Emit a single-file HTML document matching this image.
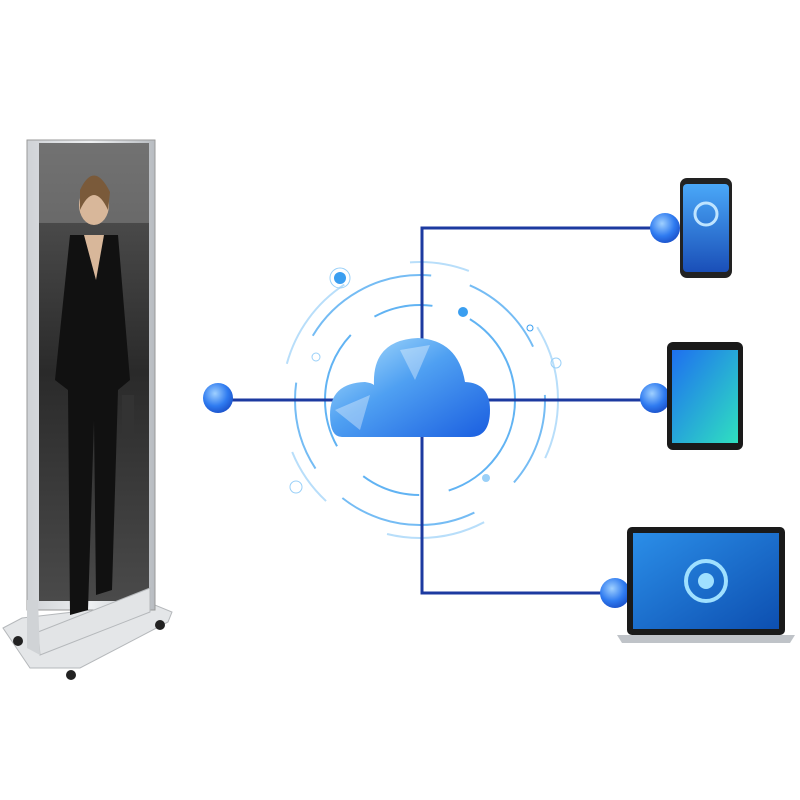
<!DOCTYPE html>
<html><head><meta charset="utf-8"><style>
html,body{margin:0;padding:0;background:#fff;width:800px;height:800px;overflow:hidden}
</style></head><body>
<svg width="800" height="800" viewBox="0 0 800 800" xmlns="http://www.w3.org/2000/svg">
<defs>
<linearGradient id="cloud" x1="0" y1="0" x2="1" y2="1">
<stop offset="0" stop-color="#b8e6fd"/><stop offset="0.45" stop-color="#4fa0f2"/><stop offset="1" stop-color="#1a5ee0"/></linearGradient>
<radialGradient id="dot" cx="0.4" cy="0.35" r="0.7"><stop offset="0" stop-color="#9fd0ff"/><stop offset="0.6" stop-color="#2f7bf0"/><stop offset="1" stop-color="#1a4fc8"/></radialGradient>
<linearGradient id="tab" x1="0" y1="0" x2="1" y2="1"><stop offset="0" stop-color="#1e6ff0"/><stop offset="1" stop-color="#2fe0c0"/></linearGradient>
<linearGradient id="phone" x1="0" y1="0" x2="0" y2="1"><stop offset="0" stop-color="#4aa8f8"/><stop offset="1" stop-color="#1a4fb8"/></linearGradient>
<linearGradient id="lap" x1="0" y1="0" x2="1" y2="1"><stop offset="0" stop-color="#2b8ee8"/><stop offset="1" stop-color="#0d4fb0"/></linearGradient>
<linearGradient id="silver" x1="0" y1="0" x2="1" y2="0"><stop offset="0" stop-color="#cfd2d6"/><stop offset="0.5" stop-color="#eef0f2"/><stop offset="1" stop-color="#b8bcc1"/></linearGradient>
<linearGradient id="photo" x1="0" y1="0" x2="0" y2="1"><stop offset="0" stop-color="#5a5a5a"/><stop offset="0.5" stop-color="#2a2a2a"/><stop offset="1" stop-color="#4a4a4a"/></linearGradient>
</defs>

<!-- poster stand base plate -->
<path d="M3,628 L22,618 L150,603 L172,612 L168,622 L80,668 L30,668 Z" fill="#e4e6e8" stroke="#b5b8bb"/>
<circle cx="18" cy="641" r="5" fill="#222"/><circle cx="160" cy="625" r="5" fill="#222"/><circle cx="71" cy="675" r="5" fill="#222"/>
<rect x="27" y="140" width="128" height="470" fill="url(#silver)" stroke="#999"/>
<rect x="39" y="143" width="110" height="458" fill="url(#photo)"/>
<rect x="39" y="143" width="110" height="80" fill="#8a8a8a" opacity="0.5"/>
<!-- lower housing -->
<path d="M38,632 L150,588 L150,612 L40,655 Z" fill="#e2e4e6" stroke="#b5b8bb"/>
<path d="M27,600 L38,600 L40,655 L27,648 Z" fill="#d0d3d6"/>
<!-- model silhouette -->
<ellipse cx="94" cy="205" rx="15" ry="20" fill="#d8b79a"/>
<path d="M80,190 Q94,160 110,192 L108,210 Q94,180 80,210 Z" fill="#7a5a3a"/>
<path d="M70,235 L118,235 L130,380 L118,390 L112,590 L96,595 L94,420 L88,610 L70,615 L68,390 L55,380 Z" fill="#111"/>
<path d="M84,235 L104,235 L96,280 Z" fill="#d8b79a"/>
<rect x="122" y="395" width="12" height="40" fill="#333"/>

<!-- rings -->
<g fill="none" stroke="#3aa0f0" stroke-width="2">
<circle cx="420" cy="400" r="95" stroke-dasharray="120 30 60 40" opacity="0.8"/>
<circle cx="420" cy="400" r="125" stroke-dasharray="90 50 140 40" opacity="0.7"/>
<circle cx="420" cy="400" r="138" stroke-dasharray="60 90 100 70" stroke="#9ad0f8" opacity="0.7"/>
</g>
<circle cx="340" cy="278" r="6" fill="#3a9ef0"/><circle cx="340" cy="278" r="10" fill="none" stroke="#9ad0f8"/>
<circle cx="463" cy="312" r="5" fill="#3a9ef0"/>
<circle cx="530" cy="328" r="3" fill="none" stroke="#3a9ef0"/>
<circle cx="556" cy="363" r="5" fill="none" stroke="#9ad0f8"/>
<circle cx="296" cy="487" r="6" fill="none" stroke="#9ad0f8"/>
<circle cx="486" cy="478" r="4" fill="#9ad0f8"/>
<circle cx="316" cy="357" r="4" fill="none" stroke="#9ad0f8"/>

<!-- lines -->
<g stroke="#1c3aa0" stroke-width="3" fill="none">
<line x1="218" y1="400" x2="655" y2="400"/>
<polyline points="665,228 422,228 422,593 615,593"/>
</g>

<!-- cloud -->
<path d="M342,437 Q330,437 330,415 Q330,383 365,382 Q372,383 374,385 Q372,340 418,338 Q458,340 465,382 Q490,383 490,410 Q490,437 470,437 Z" fill="url(#cloud)"/>
<g opacity="0.35" fill="#fff">
<path d="M335,410 L370,395 L360,430 Z"/><path d="M400,350 L430,345 L415,380 Z"/>
</g>

<!-- dots -->
<circle cx="218" cy="398" r="15" fill="url(#dot)"/>
<circle cx="665" cy="228" r="15" fill="url(#dot)"/>
<circle cx="655" cy="398" r="15" fill="url(#dot)"/>
<circle cx="615" cy="593" r="15" fill="url(#dot)"/>

<!-- phone -->
<rect x="680" y="178" width="52" height="100" rx="7" fill="#222"/>
<rect x="683" y="184" width="46" height="88" rx="4" fill="url(#phone)"/>
<circle cx="706" cy="214" r="11" fill="none" stroke="#bfe4ff" stroke-width="3"/>

<!-- tablet -->
<rect x="667" y="342" width="76" height="108" rx="6" fill="#1a1a1a"/>
<rect x="672" y="350" width="66" height="93" fill="url(#tab)"/>

<!-- laptop -->
<rect x="627" y="527" width="158" height="108" rx="5" fill="#1a1a1a"/>
<rect x="633" y="533" width="146" height="96" fill="url(#lap)"/>
<circle cx="706" cy="581" r="20" fill="none" stroke="#9fe0ff" stroke-width="4"/>
<circle cx="706" cy="581" r="8" fill="#9fe0ff"/>
<path d="M617,635 L795,635 L790,643 L622,643 Z" fill="#bfc3c8"/>
</svg>
</body></html>
